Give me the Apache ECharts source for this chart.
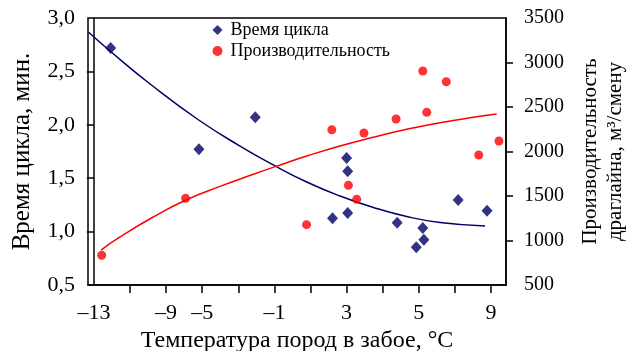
<!DOCTYPE html>
<html>
<head>
<meta charset="utf-8">
<script src="https://cdn.jsdelivr.net/npm/echarts@6/dist/echarts.min.js"></script>
<style>
html,body{margin:0;padding:0;background:#fff;}
#chart{width:628px;height:351px;}
</style>
</head>
<body>
<div id="chart"></div>
<script>
// x positions are slot units on the (non-linear) temperature axis
var xTickSlots = [1, 2, 3, 4, 5, 6, 7, 8, 9, 10, 11];
var xLabelSlots = [0, 2, 3, 5, 7, 9, 11];
var xLabelTexts = ['\u201313', '\u20139', '\u20135', '\u20131', '3', '5', '9'];

var cycleX = [0.465, 2.91, 4.47, 7.00, 7.03, 7.03, 6.61, 8.40, 9.11, 9.14, 8.93, 10.09, 10.89];
var cycleY = [2.72, 1.77, 2.07, 1.69, 1.565, 1.174, 1.125, 1.083, 1.034, 0.924, 0.853, 1.296, 1.196];

var prodX = [0.216, 2.54, 5.89, 6.59, 7.48, 8.37, 9.11, 9.22, 9.76, 11.22, 10.66, 7.05, 7.28];
var prodY = [834, 1474, 1178, 2245, 2208, 2365, 2904, 2440, 2784, 2118, 1961, 1620, 1463];

var cycleTrendX = [-0.144, 0.446, 1.629, 2.903, 4.047, 4.970, 5.895, 6.817, 7.740, 8.665, 9.587, 10.834];
var cycleTrendY = [2.866, 2.691, 2.363, 2.045, 1.801, 1.624, 1.464, 1.333, 1.226, 1.141, 1.085, 1.052];

var prodTrendX = [0.197, 0.704, 1.629, 2.551, 3.474, 4.399, 5.321, 5.895, 6.817, 7.740, 8.665, 9.587, 10.510, 11.158];
var prodTrendY = [893, 1034, 1261, 1455, 1605, 1742, 1871, 1949, 2062, 2160, 2249, 2324, 2384, 2421];

var leftTicks = [0.5, 1.0, 1.5, 2.0, 2.5, 3.0];
var rightTicks = [500, 1000, 1500, 2000, 2500, 3000, 3500];

function zip(a, b) { return a.map(function (v, i) { return [v, b[i]]; }); }

var FONT = '"Liberation Serif", "Times New Roman", serif';
var NAVY = '#000066';
var RED = '#ff0000';

var chart = echarts.init(document.getElementById('chart'), null, { renderer: 'canvas' });
chart.setOption({
  animation: false,
  backgroundColor: '#fff',
  textStyle: { fontFamily: FONT, color: '#000' },
  grid: { left: 88, right: 122, top: 18, bottom: 66, containLabel: false, outerBoundsMode: 'none',
    show: true, borderColor: '#000', borderWidth: 1.5, backgroundColor: 'transparent' },
  legend: {
    left: 207.5, top: 16, orient: 'vertical', itemGap: 3,
    itemWidth: 10, itemHeight: 10,
    textStyle: { fontFamily: FONT, fontSize: 18, color: '#000', lineHeight: 18, padding: [0, 0, 0, 3] },
    data: [
      { name: 'Время цикла', icon: 'diamond' },
      { name: 'Производительность', icon: 'circle' }
    ]
  },
  xAxis: {
    type: 'value', min: -0.163, max: 11.415,
    name: 'Температура пород в забое, °C', nameLocation: 'middle', nameGap: 43,
    nameTextStyle: { fontFamily: FONT, fontSize: 24, color: '#000' },
    axisLine: { lineStyle: { color: '#000', width: 1.5 } },
    axisTick: { inside: false, length: 8, customValues: xTickSlots, lineStyle: { color: '#000', width: 1.5 } },
    axisLabel: {
      customValues: xLabelSlots, margin: 17, fontFamily: FONT, fontSize: 22, color: '#000',
      formatter: function (v) {
        for (var i = 0; i < xLabelSlots.length; i++) if (Math.abs(xLabelSlots[i] - v) < 1e-6) return xLabelTexts[i];
        return '';
      }
    },
    splitLine: { show: false }
  },
  yAxis: [
    {
      type: 'value', min: 0.5, max: 3.0, interval: 0.5, position: 'left',
      name: 'Время цикла, мин.', nameLocation: 'middle', nameGap: 53, nameRotate: 90,
      nameTextStyle: { fontFamily: FONT, fontSize: 25, color: '#000' },
      axisLine: { show: true, lineStyle: { color: '#000', width: 1.5 } },
      axisTick: { show: true, length: 7, customValues: [1.0, 1.5, 2.0, 2.5], lineStyle: { color: '#000', width: 1.5 } },
      axisLabel: { margin: 13, fontFamily: FONT, fontSize: 22, color: '#000',
        formatter: function (v) { return v.toFixed(1).replace('.', ','); } },
      splitLine: { show: false }
    },
    {
      type: 'value', min: 500, max: 3500, interval: 500, position: 'right',
      name: 'Производительность\nдраглайна, м³/смену', nameLocation: 'middle', nameGap: 72, nameRotate: 90,
      nameTextStyle: { fontFamily: FONT, fontSize: 21, color: '#000', lineHeight: 25 },
      axisLine: { show: true, lineStyle: { color: '#000', width: 1.5 } },
      axisTick: { show: true, length: 7, customValues: [1000, 1500, 2000, 2500, 3000], lineStyle: { color: '#000', width: 1.5 } },
      axisLabel: { margin: 18, fontFamily: FONT, fontSize: 20, color: '#000',
        formatter: function (v) { return String(v); } },
      splitLine: { show: false }
    }
  ],
  series: [
    {
      name: 'Время цикла', type: 'scatter', yAxisIndex: 0,
      symbol: 'diamond', symbolSize: [11, 12],
      itemStyle: { color: NAVY },
      data: zip(cycleX, cycleY), z: 5
    },
    {
      name: 'Производительность', type: 'scatter', yAxisIndex: 1,
      symbol: 'circle', symbolSize: 9,
      itemStyle: { color: RED },
      data: zip(prodX, prodY), z: 5
    },
    {
      name: 'trendCycle', type: 'line', yAxisIndex: 0, smooth: 0.5,
      showSymbol: false, symbol: 'none',
      lineStyle: { color: NAVY, width: 1.5 },
      data: zip(cycleTrendX, cycleTrendY), z: 3
    },
    {
      name: 'trendProd', type: 'line', yAxisIndex: 1, smooth: 0.5,
      showSymbol: false, symbol: 'none',
      lineStyle: { color: RED, width: 1.5 },
      data: zip(prodTrendX, prodTrendY), z: 3
    }
  ]
});
</script>
</body>
</html>
